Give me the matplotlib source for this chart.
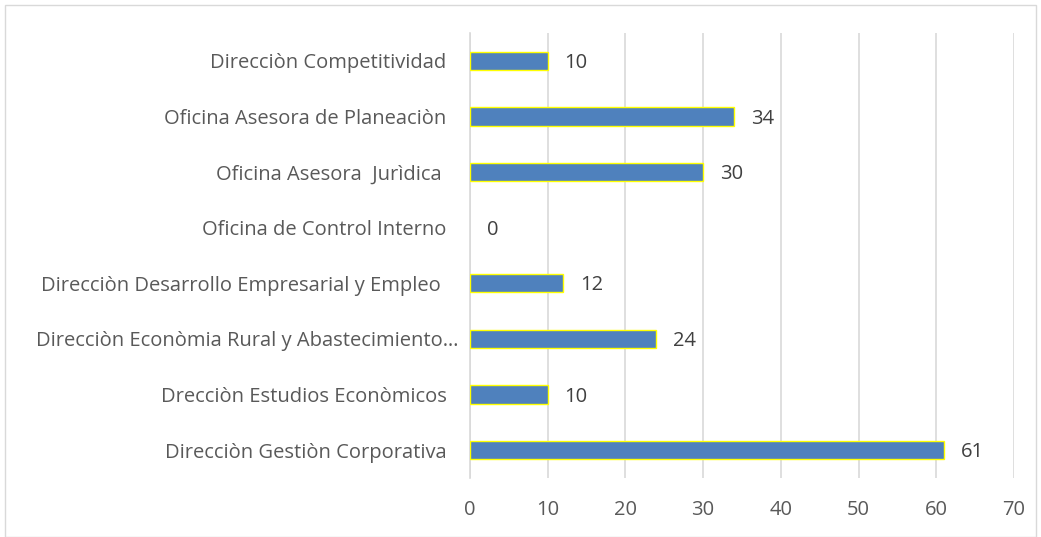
import matplotlib.pyplot as plt
from matplotlib.transforms import ScaledTranslation

# Staff count per office, listed bottom to top as drawn
categories = [
    "Direcciòn Gestiòn Corporativa",
    "Drecciòn Estudios Econòmicos",
    "Direcciòn Econòmia Rural y Abastecimiento…",
    "Direcciòn Desarrollo Empresarial y Empleo ",
    "Oficina de Control Interno",
    "Oficina Asesora  Jurìdica ",
    "Oficina Asesora de Planeaciòn",
    "Direcciòn Competitividad",
]
values = [61, 10, 24, 12, 0, 30, 34, 10]
x_ticks = [0, 10, 20, 30, 40, 50, 60, 70]

plt.rcParams["font.family"] = ["Open Sans", "DejaVu Sans"]
FS = 14.5

fig = plt.figure(figsize=(10.41, 5.37), dpi=100)
ax = fig.add_axes([0.4515, 0.1099, 0.5225, 0.8286])

edges = ["#FFFF00" if v > 0 else "none" for v in values]
ax.barh(range(len(categories)), values, height=0.33,
        color="#4F81BD", edgecolor=edges, linewidth=1.0, zorder=3)

for i, v in enumerate(values):
    ax.annotate(str(v), (v, i), xytext=(12, -1.5), textcoords="offset points",
                va="center", ha="left", fontsize=FS, color="#404040")

ax.set_xlim(0, 70)
ax.set_ylim(-0.5, len(categories) - 0.5)
ax.set_xticks(x_ticks)
ax.set_yticks(range(len(categories)))
ax.set_yticklabels(categories)
ax.tick_params(axis="y", length=0, pad=17, labelsize=FS, labelcolor="#595959")
ax.tick_params(axis="x", length=0, pad=16, labelsize=FS, labelcolor="#595959")

# the truncated label sits a little closer to the axis
long_label = ax.get_yticklabels()[2]
long_label.set_transform(long_label.get_transform()
                         + ScaledTranslation(12 / 100, 0, fig.dpi_scale_trans))

ax.grid(axis="x", color="#D9D9D9", linewidth=1.2, zorder=0)
for side in ("top", "right", "bottom"):
    ax.spines[side].set_visible(False)
ax.spines["left"].set_color("#D9D9D9")
ax.spines["left"].set_linewidth(1.2)

# light frame around the whole chart
fig.add_artist(plt.Rectangle((5 / 1041, 0.0), 1031 / 1041, 1 - 5 / 537,
                             transform=fig.transFigure, fill=False,
                             edgecolor="#D9D9D9", linewidth=1.0))

fig.savefig("out.png", dpi=100, facecolor="white")
